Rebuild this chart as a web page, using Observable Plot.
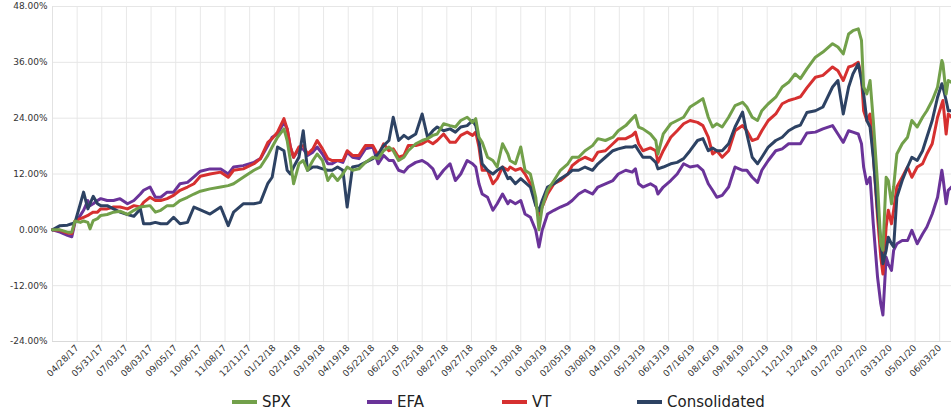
<!DOCTYPE html>
<html>
<head>
<meta charset="utf-8">
<script src="https://cdn.jsdelivr.net/npm/d3@7"></script>
<script src="https://cdn.jsdelivr.net/npm/@observablehq/plot@0.6"></script>
<style>
  body { margin: 0; background: #fff; font-family: "DejaVu Sans", sans-serif; }
  #chart { position: relative; width: 951px; height: 420px; overflow: hidden; }
  .legend { position: absolute; left: 232px; top: 388px; height: 28px; display: flex; align-items: center; font-size: 15px; color: #222; }
  .item { display: flex; align-items: center; width: 135px; }
  .item:last-child { width: auto; }
  .sw { width: 25px; height: 4px; margin-right: 5px; }
</style>
</head>
<body>
<div id="chart"></div>
<script>
// trading-day row index (from 03/28/17)
const day = [0,7,14,18,21,26,29,33,35,38,42,45,51,57,63,70,76,82,85,91,96,101,107,113,119,126,132,138,147,157,164,169,178,188,194,201,205,210,216,219,222,225,230,234,238,243,247,252,257,261,266,271,275,280,286,292,299,304,309,314,318,323,328,332,339,345,350,355,359,365,371,376,381,387,392,395,398,401,406,411,415,420,425,427,432,437,441,446,451,454,457,462,468,474,481,485,491,497,504,509,516,523,528,535,541,544,547,551,558,563,565,570,577,583,589,595,602,607,612,616,620,625,631,637,644,648,653,658,662,668,675,681,687,693,698,704,712,719,728,733,738,743,747,752,755,757,760,763,766,770,773,775,778,780,783,785,788,793,798,802,807,812,816,821,826,830,831,834,836,839];

const spx = [0,0,-0.5,-0.5,1.9,1.6,1.9,1.6,0.2,2.0,2.4,3.1,3.3,3.8,4.0,3.3,4.2,4.9,5.0,5.2,3.8,4.2,5.2,5.2,6.3,7.0,7.7,8.3,8.8,9.2,9.5,9.9,11.3,12.8,13.5,16.0,17.8,19.9,21.7,19.2,14.9,9.9,14.2,14.9,12.8,14.9,16.3,14.9,10.6,12.0,10.6,12.0,13.5,12.8,13.1,14.5,15.6,15.3,17.0,17.8,17.0,14.9,15.6,17.0,18.5,19.2,19.6,20.3,20.6,22.8,22.4,22.1,23.5,24.2,23.1,23.9,19.9,18.8,15.6,14.9,13.5,18.5,16.3,14.9,14.2,17.8,12.8,12.0,7.0,0.0,4.9,8.5,10.6,12.8,14.2,15.6,15.6,17.0,18.1,19.6,19.2,19.9,21.3,22.4,23.9,24.6,22.1,21.7,20.6,19.2,16.3,20.6,22.8,23.5,24.2,26.4,27.4,28.2,24.2,22.1,22.8,22.1,24.2,26.7,27.4,26.4,24.2,23.5,25.6,27.1,28.5,30.7,31.7,33.5,32.5,34.6,37.1,38.2,40.0,39.3,37.8,42.1,42.8,43.2,40.7,30.7,29.2,32.1,23.5,9.9,-3.0,-4.4,11.3,10.6,5.6,9.2,16.3,18.5,19.9,23.5,22.1,24.2,25.6,27.8,30.7,36.4,35.7,29.2,32.1,31.7];

const efa = [0,-0.5,-1.2,-1.5,1.6,3.1,4.2,6.3,5.2,5.6,6.3,6.7,6.3,6.3,6.7,5.6,6.3,7.7,8.5,9.2,7.0,7.0,8.1,8.1,9.9,10.2,11.4,12.6,13.1,13.1,12.0,13.5,13.8,14.5,15.3,18.1,19.9,20.6,23.1,21.7,17.8,15.6,17.4,17.4,16.0,16.7,17.8,16.3,14.2,14.2,14.9,14.5,16.7,15.6,15.3,17.4,17.8,14.2,16.0,14.9,14.9,12.8,12.4,13.5,14.5,14.9,14.2,13.1,11.0,12.8,14.2,10.6,12.0,14.9,14.2,13.5,9.9,7.7,7.0,4.2,5.6,7.7,5.6,6.3,5.6,6.3,3.4,2.7,-0.1,-3.7,-0.1,3.4,4.2,4.9,5.6,6.3,7.7,8.5,7.7,9.2,9.9,10.6,12.0,12.8,12.4,13.1,9.9,9.2,9.9,9.2,7.7,9.2,10.6,12.0,14.2,13.5,13.8,12.8,9.9,8.5,7.0,7.4,9.2,13.5,12.8,12.8,11.3,10.2,12.8,14.9,17.0,17.4,18.5,18.5,18.5,20.8,21.0,21.7,22.4,20.6,18.8,21.3,21.0,20.6,18.5,13.5,9.9,11.3,1.3,-10.2,-15.9,-18.3,-5.9,-7.3,-8.7,-4.4,-3.0,-2.3,-2.3,-0.1,-3.0,-0.9,0.6,3.4,7.0,12.8,11.3,5.6,8.5,9.2];

const vt = [0,-0.1,-0.7,-0.8,1.9,2.4,2.7,3.1,3.4,3.8,3.8,4.5,4.5,4.9,4.9,4.5,5.2,4.9,5.9,7.0,6.3,6.3,6.7,7.4,8.5,9.2,9.9,11.5,12.0,12.4,11.3,12.8,13.1,14.2,15.3,18.8,19.6,21.0,23.9,21.7,17.8,15.6,17.8,18.1,16.3,17.4,19.2,17.4,15.3,14.9,14.9,14.9,17.0,16.0,16.0,18.1,18.1,16.0,18.5,17.0,17.4,15.6,16.0,18.1,18.1,18.5,19.2,18.5,19.2,20.6,18.8,18.8,20.3,21.0,20.3,21.0,17.8,12.8,12.8,9.9,11.0,13.5,12.8,13.5,12.8,13.2,12.0,9.9,5.6,3.1,4.9,7.7,9.9,10.6,12.0,13.8,14.9,15.6,14.9,16.7,17.0,18.5,19.6,19.6,20.3,21.0,18.5,17.0,17.6,17.0,14.5,17.0,19.9,21.3,22.8,23.5,23.1,22.4,19.9,16.3,17.0,15.6,17.0,21.3,22.4,21.3,19.2,19.6,21.3,23.5,24.9,27.1,27.8,28.2,28.6,30.5,32.8,33.2,35.0,34.2,32.1,35.0,35.3,36.0,32.8,25.6,23.5,24.9,16.3,2.7,-5.9,-9.5,0.6,4.2,1.3,4.2,9.2,11.3,13.5,11.3,13.5,14.2,16.3,18.5,24.2,27.1,27.8,20.6,24.9,24.2];

const cons = [0,0.9,1.0,1.3,1.6,5.6,8.1,4.5,5.6,7.2,5.6,5.2,5.2,4.5,3.8,3.3,2.9,4.5,1.3,1.3,1.6,1.3,1.3,2.7,1.3,1.6,4.9,4.3,3.4,4.9,0.9,3.8,5.6,5.6,5.9,10.0,11.3,17.8,17.0,12.8,12.0,13.5,15.6,21.3,12.8,13.5,13.5,13.1,12.8,12.8,13.5,12.8,4.9,13.5,13.8,14.5,15.3,16.3,18.1,19.2,24.2,19.2,20.3,19.6,20.6,24.9,19.9,21.3,22.1,21.3,21.7,21.0,22.1,22.4,23.5,22.4,19.2,14.2,12.8,12.0,12.8,13.5,11.0,11.3,9.9,11.0,10.2,9.2,5.2,4.1,6.3,9.2,9.9,11.0,12.0,12.8,12.8,13.5,12.8,14.2,15.6,17.0,17.4,17.8,17.8,18.1,17.0,15.6,15.6,14.5,13.1,13.5,14.2,14.5,15.3,17.0,19.2,19.6,17.0,17.6,17.0,17.0,18.5,22.1,25.3,20.6,15.6,14.2,15.6,17.8,19.2,19.9,21.3,22.1,22.5,25.2,25.6,26.4,30.7,32.1,24.9,30.7,33.5,35.7,32.1,29.2,23.5,22.1,15.6,4.2,-2.3,-7.3,-4.4,-1.6,-3.0,-3.7,7.0,10.6,13.5,15.6,14.9,17.0,19.9,23.5,28.5,31.4,30.7,27.8,25.6,25.6];

const seriesNames = ["SPX", "EFA", "VT", "Consolidated"];
const seriesColors = ["#72a04a", "#6a3399", "#d63030", "#2d4263"];
const seriesValues = [spx, efa, vt, cons];
const drawOrder = ["EFA", "VT", "Consolidated", "SPX"];

const tickLabels = ["04/28/17","05/31/17","07/03/17","08/03/17","09/05/17","10/06/17","11/08/17","12/11/17","01/12/18","02/14/18","03/19/18","04/19/18","05/22/18","06/22/18","07/25/18","08/27/18","09/27/18","10/30/18","11/30/18","01/03/19","02/05/19","03/08/19","04/10/19","05/13/19","06/13/19","07/16/19","08/16/19","09/18/19","10/21/19","11/21/19","12/24/19","01/27/20","02/27/20","03/31/20","05/01/20","06/03/20"];
const rowsPerTick = 23; // a label every 23rd trading row
const yTicks = [-24, -12, 0, 12, 24, 36, 48];

const tickDays = tickLabels.map((_, i) => (i + 1) * rowsPerTick);

const rows = {};
seriesNames.forEach((name, s) => {
  rows[name] = day.map((d, i) => ({day: d, value: seriesValues[s][i], series: name}));
});

const chart = Plot.plot({
  width: 951,
  height: 388,
  marginLeft: 52,
  marginRight: 0,
  marginTop: 6,
  marginBottom: 47,
  style: {fontFamily: "DejaVu Sans, sans-serif", fontSize: "9px", color: "#333", background: "#fff"},
  x: {domain: [0, d3.max(day)]},
  y: {domain: [-24, 48]},
  marks: [
    Plot.ruleX(tickDays, {stroke: "#e8e8e8", strokeWidth: 1}),
    Plot.ruleY(yTicks, {stroke: "#e6e6e6", strokeWidth: 1}),
    Plot.ruleX([0], {stroke: "#e2e2e2"}),
    Plot.ruleY([-24], {stroke: "#d9d9d9"}),
    Plot.axisY({ticks: yTicks, tickFormat: d => d.toFixed(2) + "%", tickSize: 0, tickPadding: 5, label: null}),
    Plot.axisX({ticks: tickDays, tickFormat: d => tickLabels[d / rowsPerTick - 1], tickRotate: -45, tickSize: 0, tickPadding: 5, label: null}),
    ...drawOrder.map(name => Plot.line(rows[name], {
      x: "day", y: "value",
      stroke: seriesColors[seriesNames.indexOf(name)],
      strokeWidth: 3, strokeLinejoin: "round", curve: "linear"
    }))
  ]
});

const root = document.getElementById("chart");
root.appendChild(chart);
const legend = document.createElement("div");
legend.className = "legend";
seriesNames.forEach((name, i) => {
  const item = document.createElement("div");
  item.className = "item";
  const sw = document.createElement("div");
  sw.className = "sw";
  sw.style.background = seriesColors[i];
  const label = document.createElement("span");
  label.textContent = name;
  item.appendChild(sw);
  item.appendChild(label);
  legend.appendChild(item);
});
root.appendChild(legend);
</script>
</body>
</html>
